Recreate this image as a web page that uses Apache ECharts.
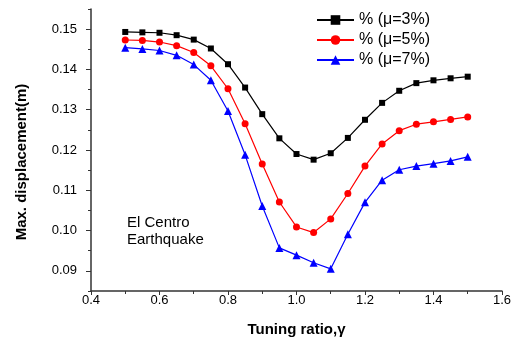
<!DOCTYPE html>
<html>
<head>
<meta charset="utf-8">
<script src="https://cdn.jsdelivr.net/npm/echarts@6/dist/echarts.min.js"></script>
<style>
  html, body { margin: 0; padding: 0; background: #fff; }
  #main { width: 514px; height: 343px; }
</style>
</head>
<body>
<div id="main"></div>
<script>
// tuning ratio
const ratios = [0.5, 0.55, 0.6, 0.65, 0.7, 0.75, 0.8, 0.85, 0.9, 0.95, 1.0,
  1.05, 1.1, 1.15, 1.2, 1.25, 1.3, 1.35, 1.4, 1.45, 1.5];
// 最大位移 (m)
const mu3 = [0.1493, 0.1492, 0.1491, 0.1485, 0.1474, 0.1452, 0.1413, 0.1355, 0.1289, 0.1229, 0.1190,
  0.1176, 0.1192, 0.1230, 0.1275, 0.1317, 0.1347, 0.1366, 0.1373, 0.1378, 0.1382];
const mu5 = [0.1473, 0.1472, 0.1468, 0.1459, 0.1442, 0.1409, 0.1352, 0.1265, 0.1165, 0.1071, 0.1009,
  0.0995, 0.1029, 0.1092, 0.1160, 0.1215, 0.1248, 0.1264, 0.1270, 0.1276, 0.1282];
const mu7 = [0.1454, 0.1451, 0.1447, 0.1435, 0.1412, 0.1373, 0.1297, 0.1188, 0.1061, 0.0957, 0.0939,
  0.0920, 0.0905, 0.0991, 0.1070, 0.1125, 0.1151, 0.1160, 0.1166, 0.1173, 0.1183];
const seriesNames = ['% (\u03bc=3%)', '% (\u03bc=5%)', '% (\u03bc=7%)'];
// 坐标范围
const yRange = [0.085, 0.155];
const yLabelRange = [0.09, 0.15];

const font = 'Arial, "Liberation Sans", sans-serif';

// 绘图区 (px)
const plot = { left: 91, right: 10, top: 9, bottom: 52 };
const plotH = 343 - plot.top - plot.bottom;
const pxPerUnit = plotH / (yRange[1] - yRange[0]);
// 第二个grid只放主刻度和标签 (0.09 ~ 0.15)
const labelGrid = {
  left: plot.left,
  right: plot.right,
  top: plot.top + (yRange[1] - yLabelRange[1]) * pxPerUnit,
  bottom: plot.bottom + (yLabelRange[0] - yRange[0]) * pxPerUnit
};

function pairs(ys) {
  return ratios.map((x, i) => [x, ys[i]]);
}

function makeSeries(name, ys, color, symbol, size) {
  return {
    name: name,
    type: 'line',
    data: pairs(ys),
    symbol: symbol,
    symbolSize: size,
    showAllSymbol: true,
    animation: false,
    lineStyle: { color: color, width: 1.2 },
    itemStyle: { color: color }
  };
}

const chart = echarts.init(document.getElementById('main'), null, { renderer: 'canvas' });

const option = {
  backgroundColor: '#fff',
  animation: false,
  grid: [
    Object.assign({ containLabel: false }, plot),
    Object.assign({ containLabel: false }, labelGrid)
  ],
  legend: {
    orient: 'vertical',
    left: 316,
    top: 12,
    padding: 0,
    itemWidth: 37,
    itemHeight: 12,
    itemGap: 4,
    textStyle: { fontFamily: font, fontSize: 16, color: '#000' },
    data: seriesNames
  },
  xAxis: [{
    type: 'value',
    gridIndex: 0,
    min: 0.4,
    max: 1.6,
    interval: 0.2,
    name: 'Tuning ratio,\u03b3',
    nameLocation: 'middle',
    nameGap: 31,
    nameTextStyle: { fontFamily: font, fontSize: 15, fontWeight: 'bold', color: '#000' },
    axisLine: { show: true, lineStyle: { color: '#333', width: 1.5 } },
    axisTick: { show: true, length: 4, lineStyle: { color: '#333', width: 1 } },
    minorTick: { show: true, splitNumber: 2, length: 3, lineStyle: { color: '#333', width: 1 } },
    axisLabel: {
      margin: 3, fontFamily: font, fontSize: 13, color: '#000',
      formatter: v => v.toFixed(1)
    },
    splitLine: { show: false }
  }, {
    type: 'value',
    gridIndex: 1,
    min: 0.4,
    max: 1.6,
    show: false
  }],
  yAxis: [{
    type: 'value',
    gridIndex: 0,
    min: yRange[0],
    max: yRange[1],
    interval: 0.005,
    name: 'Max. displacement(m)',
    nameLocation: 'middle',
    nameGap: 62,
    nameTextStyle: { fontFamily: font, fontSize: 15, fontWeight: 'bold', color: '#000', padding: [0, 24, 0, 0] },
    axisLine: { show: true, lineStyle: { color: '#333', width: 1.5 } },
    axisTick: { show: true, length: 3, lineStyle: { color: '#333', width: 1 } },
    axisLabel: { show: false },
    splitLine: { show: false }
  }, {
    type: 'value',
    gridIndex: 1,
    min: yLabelRange[0],
    max: yLabelRange[1],
    interval: 0.01,
    axisLine: { show: false },
    axisTick: { show: true, length: 5, lineStyle: { color: '#333', width: 1 } },
    axisLabel: {
      margin: 14, fontFamily: font, fontSize: 13, color: '#000',
      formatter: v => v.toFixed(2)
    },
    splitLine: { show: false }
  }],
  graphic: [{
    type: 'text',
    left: 127,
    top: 214,
    style: {
      text: 'El Centro\nEarthquake',
      font: '15px ' + font,
      lineHeight: 17,
      fill: '#000'
    }
  }],
  series: [
    makeSeries(seriesNames[0], mu3, '#000000', 'rect', 6),
    makeSeries(seriesNames[1], mu5, '#ff0000', 'circle', 7),
    makeSeries(seriesNames[2], mu7, '#0000ff', 'triangle', 8)
  ]
};

chart.setOption(option);
</script>
</body>
</html>
